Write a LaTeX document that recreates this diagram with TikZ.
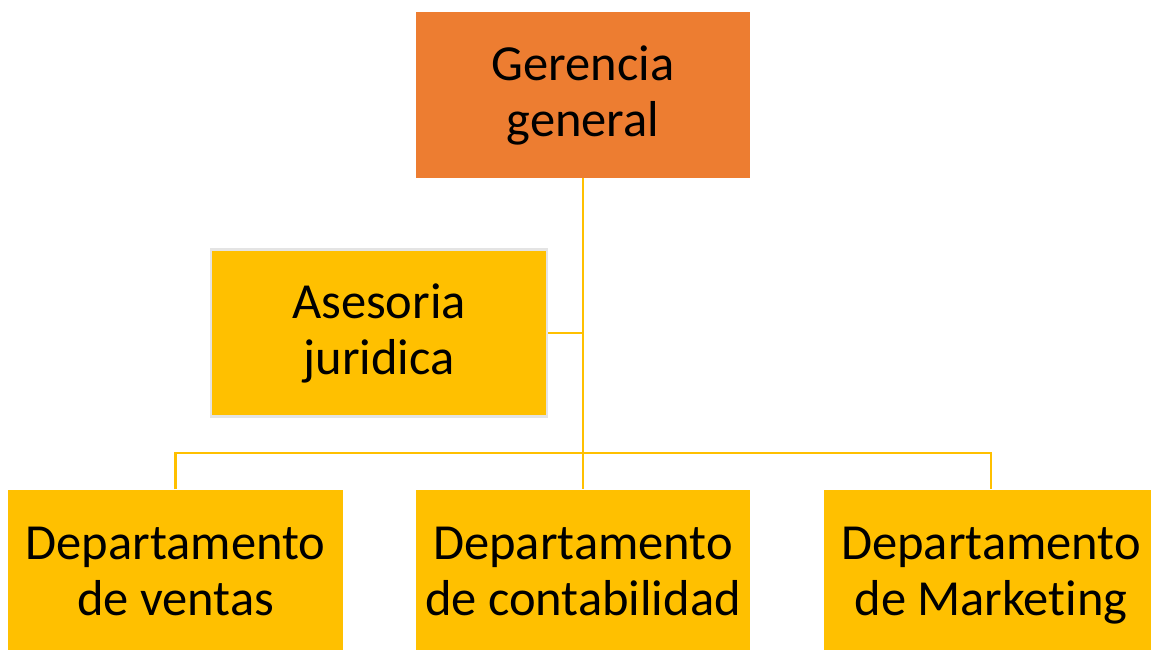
\documentclass[tikz,border=0pt]{standalone}
\usepackage{fontspec}
\setmainfont[Ligatures=NoCommon]{Carlito}
\definecolor{gerorange}{HTML}{ED7D31}
\definecolor{gold}{HTML}{FFC000}
\definecolor{lightborder}{HTML}{E4E4E4}
\begin{document}
\begin{tikzpicture}[x=1pt,y=-1pt,
  box/.style={rectangle, inner sep=0pt, align=center, text=black,
    font=\fontsize{50.5}{56}\selectfont},
  dept/.style={box, fill=gold, minimum width=334pt, minimum height=173pt},
  link/.style={draw=gold, line width=2.2pt}]
\useasboundingbox (0,0) rectangle (1151,650);
\clip (0,0) rectangle (1151,650);
\node[box, fill=gerorange, minimum width=334pt, minimum height=166pt] (ger) at (583,95) {Gerencia\\general};
\node[box, fill=gold, draw=lightborder, line width=2.5pt, minimum width=336pt, minimum height=167pt] (ase) at (379,333) {Asesoria\\juridica};
\node[dept, minimum width=335pt] (ven) at (175.5,576) {Departamento\\de ventas\vphantom{g}};
\node[dept] (con) at (583,576) {Departamento\\de contabilidad\vphantom{g}};
\node[dept] (mar) at (991,576) {Departamento\\de Marketing\vphantom{g}};
\coordinate (bus) at (583,453);
\draw[link] (ger.south) -- (con.north);
\draw[link] (ase.east) -- (ase.east -| ger.south);
\draw[link] (ven.north) -- (ven.north |- bus) -- (mar.north |- bus) -- (mar.north);
\end{tikzpicture}
\end{document}
